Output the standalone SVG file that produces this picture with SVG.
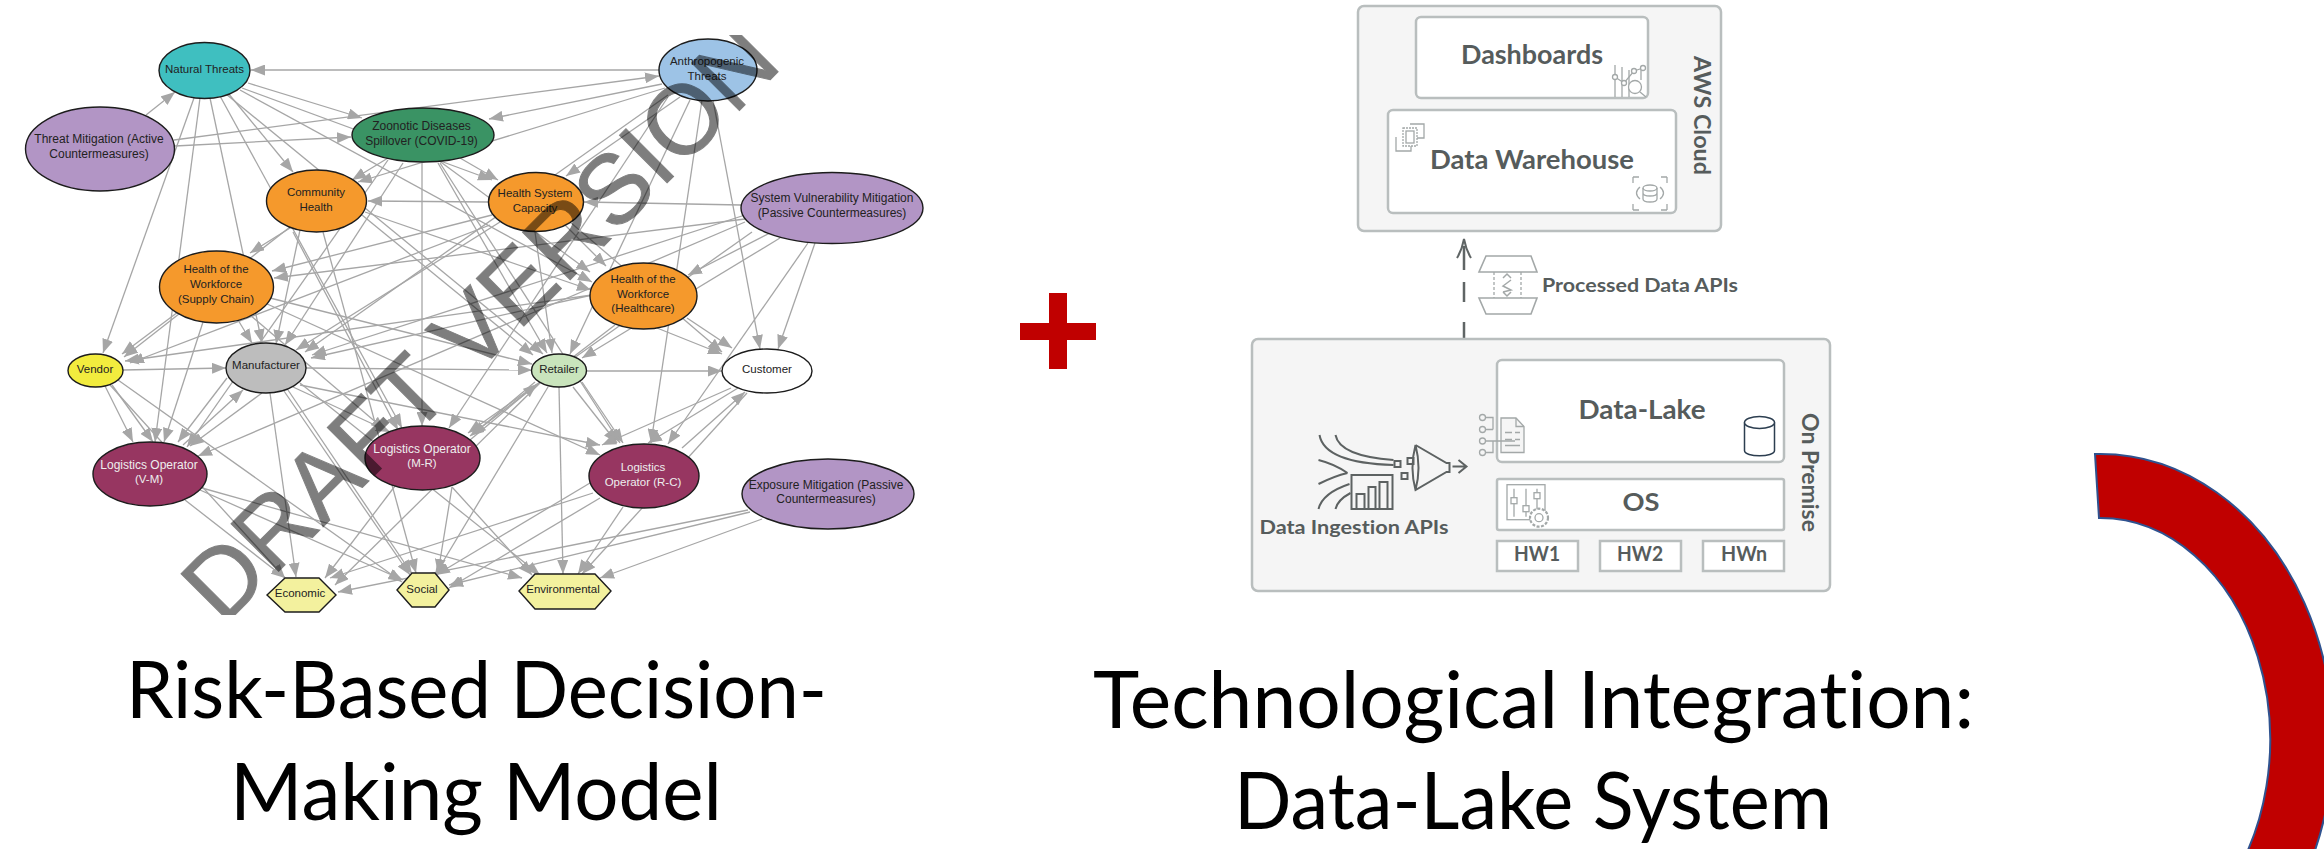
<svg xmlns="http://www.w3.org/2000/svg" width="2324" height="849" viewBox="0 0 2324 849">
<style>
.n{stroke:#1c1c1c;stroke-width:1.4}
.t{font-family:"Liberation Sans",Arial,sans-serif;font-size:11.5px;fill:#222;text-anchor:middle}
.l{font-size:12px}
.w{fill:#eee}
.title{font-family:Lato,"Liberation Sans",sans-serif;font-size:79px;fill:#000;font-variant-ligatures:none}
.box{fill:#f5f5f5;stroke:#b9bebe;stroke-width:2.5}
.in{fill:#fff;stroke:#b9bebe;stroke-width:2.5}
.d{font-family:Lato,"Liberation Sans",sans-serif;font-weight:700;fill:#565c5c;text-anchor:middle;font-variant-ligatures:none}
.ic{fill:none;stroke:#a3a8a8;stroke-width:1.3}
.ik{fill:none;stroke:#5d6262;stroke-width:2}
#connectors line{stroke:#a6a6a6;stroke-width:1.3;marker-end:url(#ah)}
</style>
<defs>
<marker id="ah" markerUnits="userSpaceOnUse" markerWidth="14" markerHeight="11" refX="14" refY="5.5" orient="auto"><path d="M0 0L14 5.5L0 11Z" fill="#a6a6a6"/></marker>
<clipPath id="wm"><rect x="0" y="35" width="1000" height="580"/></clipPath>
</defs>
<rect width="2324" height="849" fill="#fff"/>
<g id="connectors">
<line x1="659" y1="70" x2="251" y2="70"/>
<line x1="146" y1="115" x2="175" y2="92"/>
<line x1="175" y1="146" x2="351" y2="137"/>
<line x1="174" y1="140" x2="659" y2="76"/>
<line x1="248" y1="83" x2="362" y2="118"/>
<line x1="228" y1="93" x2="293" y2="172"/>
<line x1="242" y1="88" x2="492" y2="180"/>
<line x1="240" y1="90" x2="592" y2="282"/>
<line x1="210" y1="98" x2="262" y2="343"/>
<line x1="200" y1="98" x2="155" y2="442"/>
<line x1="194" y1="98" x2="103" y2="353"/>
<line x1="220" y1="96" x2="402" y2="428"/>
<line x1="226" y1="94" x2="543" y2="354"/>
<line x1="662" y1="84" x2="489" y2="119"/>
<line x1="665" y1="88" x2="358" y2="182"/>
<line x1="680" y1="97" x2="566" y2="176"/>
<line x1="668" y1="95" x2="305" y2="352"/>
<line x1="690" y1="100" x2="570" y2="354"/>
<line x1="668" y1="97" x2="449" y2="428"/>
<line x1="702" y1="100" x2="651" y2="443"/>
<line x1="713" y1="100" x2="760" y2="349"/>
<line x1="741" y1="205" x2="584" y2="202"/>
<line x1="770" y1="233" x2="688" y2="275"/>
<line x1="780" y1="238" x2="582" y2="358"/>
<line x1="815" y1="243" x2="778" y2="349"/>
<line x1="808" y1="243" x2="668" y2="444"/>
<line x1="745" y1="222" x2="198" y2="456"/>
<line x1="745" y1="219" x2="274" y2="278"/>
<line x1="745" y1="215" x2="312" y2="355"/>
<line x1="752" y1="232" x2="468" y2="433"/>
<line x1="762" y1="519" x2="600" y2="578"/>
<line x1="750" y1="512" x2="449" y2="585"/>
<line x1="748" y1="510" x2="338" y2="592"/>
<line x1="388" y1="158" x2="352" y2="180"/>
<line x1="460" y1="158" x2="498" y2="180"/>
<line x1="438" y1="160" x2="590" y2="272"/>
<line x1="403" y1="163" x2="285" y2="345"/>
<line x1="422" y1="163" x2="422" y2="426"/>
<line x1="438" y1="163" x2="547" y2="353"/>
<line x1="440" y1="163" x2="620" y2="443"/>
<line x1="388" y1="160" x2="187" y2="447"/>
<line x1="488" y1="202" x2="368" y2="201"/>
<line x1="492" y1="215" x2="272" y2="271"/>
<line x1="565" y1="225" x2="606" y2="266"/>
<line x1="490" y1="225" x2="130" y2="363"/>
<line x1="500" y1="222" x2="296" y2="350"/>
<line x1="535" y1="232" x2="552" y2="353"/>
<line x1="570" y1="222" x2="722" y2="352"/>
<line x1="290" y1="228" x2="250" y2="253"/>
<line x1="290" y1="227" x2="124" y2="357"/>
<line x1="365" y1="212" x2="591" y2="290"/>
<line x1="293" y1="232" x2="398" y2="430"/>
<line x1="323" y1="232" x2="416" y2="573"/>
<line x1="362" y1="215" x2="533" y2="355"/>
<line x1="300" y1="230" x2="276" y2="344"/>
<line x1="178" y1="312" x2="122" y2="354"/>
<line x1="238" y1="320" x2="252" y2="343"/>
<line x1="203" y1="322" x2="164" y2="442"/>
<line x1="270" y1="298" x2="532" y2="364"/>
<line x1="250" y1="315" x2="385" y2="430"/>
<line x1="265" y1="303" x2="600" y2="455"/>
<line x1="687" y1="318" x2="732" y2="348"/>
<line x1="657" y1="328" x2="722" y2="354"/>
<line x1="592" y1="295" x2="311" y2="358"/>
<line x1="592" y1="295" x2="125" y2="361"/>
<line x1="615" y1="325" x2="470" y2="436"/>
<line x1="123" y1="370" x2="226" y2="368"/>
<line x1="105" y1="386" x2="133" y2="442"/>
<line x1="112" y1="385" x2="153" y2="442"/>
<line x1="110" y1="385" x2="285" y2="578"/>
<line x1="118" y1="380" x2="402" y2="582"/>
<line x1="306" y1="368" x2="532" y2="370"/>
<line x1="262" y1="393" x2="190" y2="446"/>
<line x1="227" y1="378" x2="178" y2="442"/>
<line x1="293" y1="387" x2="390" y2="432"/>
<line x1="300" y1="385" x2="600" y2="445"/>
<line x1="270" y1="393" x2="296" y2="577"/>
<line x1="284" y1="391" x2="410" y2="575"/>
<line x1="288" y1="390" x2="412" y2="574"/>
<line x1="300" y1="383" x2="540" y2="575"/>
<line x1="587" y1="371" x2="722" y2="371"/>
<line x1="573" y1="387" x2="617" y2="443"/>
<line x1="582" y1="382" x2="623" y2="443"/>
<line x1="548" y1="387" x2="435" y2="575"/>
<line x1="540" y1="383" x2="335" y2="585"/>
<line x1="559" y1="387" x2="563" y2="574"/>
<line x1="470" y1="440" x2="537" y2="384"/>
<line x1="535" y1="382" x2="472" y2="435"/>
<line x1="738" y1="388" x2="648" y2="443"/>
<line x1="731" y1="388" x2="602" y2="445"/>
<line x1="682" y1="448" x2="745" y2="392"/>
<line x1="747" y1="393" x2="582" y2="574"/>
<line x1="623" y1="507" x2="578" y2="574"/>
<line x1="590" y1="483" x2="436" y2="575"/>
<line x1="593" y1="493" x2="330" y2="578"/>
<line x1="600" y1="498" x2="449" y2="588"/>
<line x1="395" y1="486" x2="325" y2="578"/>
<line x1="452" y1="487" x2="532" y2="575"/>
<line x1="452" y1="487" x2="438" y2="573"/>
<line x1="185" y1="500" x2="285" y2="578"/>
<line x1="200" y1="490" x2="403" y2="580"/>
<line x1="202" y1="488" x2="522" y2="578"/>
<line x1="183" y1="445" x2="243" y2="390"/>
</g>
<g id="natural-threats"><ellipse class="n" cx="204.5" cy="70.5" rx="45.5" ry="28" fill="#3fbfc0"/><text class="t" x="204.5" y="73">Natural Threats</text></g>
<g id="threat-mitigation"><ellipse class="n" cx="100" cy="149" rx="74.5" ry="42" fill="#b295c5"/><text class="t l" x="99" y="143">Threat Mitigation (Active</text><text class="t l" x="99" y="158">Countermeasures)</text></g>
<g id="zoonotic"><ellipse class="n" cx="423" cy="135" rx="71" ry="27" fill="#3a9364"/><text class="t l" x="421.5" y="130">Zoonotic Diseases</text><text class="t l" x="421.5" y="145">Spillover (COVID-19)</text></g>
<g id="community-health"><ellipse class="n" cx="316.5" cy="201" rx="50" ry="31" fill="#f5992c"/><text class="t" x="316" y="196">Community</text><text class="t" x="316" y="211">Health</text></g>
<g id="workforce-supply"><ellipse class="n" cx="216.5" cy="287" rx="57" ry="36" fill="#f5992c"/><text class="t" x="216" y="273">Health of the</text><text class="t" x="216" y="288">Workforce</text><text class="t" x="216" y="303">(Supply Chain)</text></g>
<g id="anthropogenic"><ellipse class="n" cx="708" cy="70" rx="49" ry="31" fill="#9dc3e6"/><text class="t" x="707" y="65">Anthropogenic</text><text class="t" x="707" y="80">Threats</text></g>
<g id="health-system"><ellipse class="n" cx="536" cy="202" rx="47.5" ry="29.5" fill="#f5992c"/><text class="t" x="535" y="197">Health System</text><text class="t" x="535" y="212">Capacity</text></g>
<g id="system-vulnerability"><ellipse class="n" cx="832" cy="208" rx="91" ry="35.5" fill="#b295c5"/><text class="t l" x="832" y="202">System Vulnerability Mitigation</text><text class="t l" x="832" y="217">(Passive Countermeasures)</text></g>
<g id="workforce-healthcare"><ellipse class="n" cx="643.5" cy="296" rx="53.5" ry="33" fill="#f5992c"/><text class="t" x="643" y="283">Health of the</text><text class="t" x="643" y="298">Workforce</text><text class="t" x="643" y="312">(Healthcare)</text></g>
<g id="vendor"><ellipse class="n" cx="95.5" cy="370.5" rx="27.5" ry="16.5" fill="#f2ec3e"/><text class="t" x="95" y="373">Vendor</text></g>
<g id="manufacturer"><ellipse class="n" cx="266" cy="368" rx="40" ry="25" fill="#bdbdbd"/><text class="t" x="266" y="369">Manufacturer</text></g>
<g id="retailer"><ellipse class="n" cx="559" cy="370.5" rx="27.5" ry="16.5" fill="#c9e4bc"/><text class="t" x="559" y="373">Retailer</text></g>
<g id="customer"><ellipse class="n" cx="767" cy="371" rx="45" ry="22" fill="#fff"/><text class="t" x="767" y="373">Customer</text></g>
<g id="logistics-vm"><ellipse class="n" cx="150" cy="474" rx="57" ry="32" fill="#973661"/><text class="t w l" x="149" y="469">Logistics Operator</text><text class="t w" x="149" y="483">(V-M)</text></g>
<g id="logistics-mr"><ellipse class="n" cx="422.5" cy="458" rx="57.5" ry="32" fill="#973661"/><text class="t w l" x="422" y="453">Logistics Operator</text><text class="t w" x="422" y="467">(M-R)</text></g>
<g id="logistics-rc"><ellipse class="n" cx="644" cy="476" rx="55" ry="32" fill="#973661"/><text class="t w" x="643" y="471">Logistics</text><text class="t w" x="643" y="486">Operator (R-C)</text></g>
<g id="exposure-mitigation"><ellipse class="n" cx="828" cy="494" rx="86" ry="35" fill="#b295c5"/><text class="t l" x="826" y="489">Exposure Mitigation (Passive</text><text class="t l" x="826" y="503">Countermeasures)</text></g>
<g id="economic"><polygon class="n" points="267,595 285,578 319,578 336,595 319,612 285,612" fill="#f3f19e"/><text class="t" x="300" y="597">Economic</text></g>
<g id="social"><polygon class="n" points="397,590 412,573 435,573 449,590 435,607 412,607" fill="#f3f19e"/><text class="t" x="422" y="593">Social</text></g>
<g id="environmental"><polygon class="n" points="519,591 535,574 595,574 611,591 595,609 535,609" fill="#f3f19e"/><text class="t" x="563" y="593">Environmental</text></g>
<g clip-path="url(#wm)"><g opacity=".5"><text transform="translate(223 627) rotate(-45)" font-family="'Liberation Sans',Arial,sans-serif" font-size="98" fill="#000" stroke="#000" stroke-width="1">DRAFT VERSION</text></g></g>
<g id="plus"><path d="M1049 293H1067V323H1096V340H1067V369H1049V340H1020V323H1049Z" fill="#c00000"/></g>
<text class="title" x="126" y="718" textLength="701" lengthAdjust="spacingAndGlyphs">Risk-Based Decision-</text>
<text class="title" x="230" y="820" textLength="492" lengthAdjust="spacingAndGlyphs">Making Model</text>
<text class="title" x="1093" y="728" textLength="881" lengthAdjust="spacingAndGlyphs">Technological Integration:</text>
<text class="title" x="1234" y="829" textLength="598" lengthAdjust="spacingAndGlyphs">Data-Lake System</text>
<g id="aws-cloud">
<rect class="box" x="1358" y="6" width="363" height="225" rx="6"/>
<text class="d" transform="translate(1693.5 115.5) rotate(90)" font-size="22" textLength="119" lengthAdjust="spacingAndGlyphs">AWS Cloud</text>
</g>
<g id="dashboards">
<rect class="in" x="1416" y="17" width="232" height="81" rx="5"/>
<text class="d" x="1532" y="64" font-size="27" textLength="142" lengthAdjust="spacingAndGlyphs">Dashboards</text>
<g class="ic"><path d="M1615 65V97M1622 67V97M1629 70V97M1641 70V80"/><path d="M1615 77L1624 83L1634 71L1643 68"/><circle cx="1615" cy="77" r="2.5" fill="#fff"/><circle cx="1624" cy="83" r="2.5" fill="#fff"/><circle cx="1634" cy="71" r="2.5" fill="#fff"/><circle cx="1643" cy="68" r="2.5" fill="#fff"/><circle cx="1635" cy="87" r="6.5" fill="#fff"/><path d="M1640 92L1646 97"/></g>
</g>
<g id="data-warehouse">
<rect class="in" x="1388" y="110" width="288" height="103" rx="5"/>
<text class="d" x="1532" y="169" font-size="27" textLength="204" lengthAdjust="spacingAndGlyphs">Data Warehouse</text>
<g class="ic"><path d="M1410 124H1424V138H1417M1396 137V151H1411V146"/><path d="M1403 128H1417V146H1403Z" stroke-dasharray="2 1"/><rect x="1406" y="131" width="8" height="12"/></g>
<g class="ic"><ellipse cx="1650" cy="188" rx="7" ry="3"/><path d="M1643 188V199C1643 203 1657 203 1657 199V188M1643 193C1643 197 1657 197 1657 193"/><path d="M1640 187Q1633 193 1640 199M1660 187Q1667 193 1660 199M1633 177V183M1633 177H1639M1667 177V183M1667 177H1661M1633 210V204M1633 210H1639M1667 210V204M1667 210H1661"/></g>
</g>
<g id="processed-data-apis">
<path d="M1464 338V322M1464 302V282M1464 270V246" fill="none" stroke="#5f6565" stroke-width="2.5"/>
<path d="M1457 258Q1462 250 1464 239Q1466 250 1471 258" fill="none" stroke="#5f6565" stroke-width="2"/>
<g class="ic"><path d="M1486 256H1531L1537 272H1479ZM1479 298H1537L1531 314H1486Z" stroke-width="1.6"/><path d="M1494 272V298M1521 272V298" stroke-dasharray="3 2"/><path d="M1503 278L1507 274L1511 278M1503 292L1507 296L1511 292M1511 280L1503 286L1511 290L1503 292" stroke-width="1.5"/></g>
<text class="d" x="1640" y="292" font-size="19" textLength="196" lengthAdjust="spacingAndGlyphs">Processed Data APIs</text>
</g>
<g id="on-premise">
<rect class="box" x="1252" y="339" width="578" height="252" rx="6"/>
<text class="d" transform="translate(1802 472.5) rotate(90)" font-size="22" textLength="119" lengthAdjust="spacingAndGlyphs">On Premise</text>
</g>
<g id="data-lake">
<rect class="in" x="1497" y="360" width="287" height="102" rx="5"/>
<text class="d" x="1642" y="419" font-size="27" textLength="127" lengthAdjust="spacingAndGlyphs">Data-Lake</text>
<g transform="translate(-2 -1.5)"><path d="M1746.5 424V452C1746.5 459 1776.5 459 1776.5 452V424" fill="#fff" stroke="#2c3e50" stroke-width="1.5"/><ellipse cx="1761.5" cy="424" rx="15" ry="6" fill="#fff" stroke="#2c3e50" stroke-width="1.5"/></g>
<g class="ic" stroke-width="1.6" transform="translate(-1 -1.5)"><path d="M1502 419.5H1517L1525 428V454H1502Z" fill="#f5f5f5"/><path d="M1517 419.5V428H1525M1506 434H1513M1516 434H1521M1506 441H1513M1516 441H1521M1506 447H1521"/><path d="M1486.5 419H1494V431M1486.5 431H1494M1486.5 442.5H1516M1486.5 454H1494V442"/><circle cx="1483.5" cy="419" r="3"/><circle cx="1483.5" cy="431" r="3"/><circle cx="1483.5" cy="442.5" r="3"/><circle cx="1483.5" cy="454" r="3"/></g>
</g>
<g id="os">
<rect class="in" x="1497" y="479" width="287" height="51" rx="2"/>
<text class="d" x="1641" y="511" font-size="25" textLength="37" lengthAdjust="spacingAndGlyphs">OS</text>
<g class="ic" stroke-width="1.5" transform="translate(-1 -2.3)"><rect x="1508" y="487" width="38" height="35"/><path d="M1515 491V519M1527 491V519M1538 491V519"/><rect x="1512" y="500" width="6" height="6" fill="#fff"/><rect x="1524" y="508" width="6" height="6" fill="#fff"/><rect x="1535" y="495" width="6" height="6" fill="#fff"/><circle cx="1540" cy="520" r="9" fill="#fff" stroke-dasharray="3 1.5" stroke-width="2.2"/><circle cx="1540" cy="520" r="4"/></g>
</g>
<g id="hw1"><rect class="in" x="1497" y="541" width="81" height="30"/><text class="d" x="1537" y="561" font-size="20" textLength="46" lengthAdjust="spacingAndGlyphs">HW1</text></g>
<g id="hw2"><rect class="in" x="1600" y="541" width="81" height="30"/><text class="d" x="1640" y="561" font-size="20" textLength="46" lengthAdjust="spacingAndGlyphs">HW2</text></g>
<g id="hwn"><rect class="in" x="1703" y="541" width="81" height="30"/><text class="d" x="1744" y="561" font-size="20" textLength="46" lengthAdjust="spacingAndGlyphs">HWn</text></g>
<g id="data-ingestion-apis">
<g class="ik" transform="translate(-.5 -2)"><path d="M1320 437Q1325 465 1394 467M1336 437Q1340 458 1394 462M1319 462Q1335 466 1348 475M1319 486Q1335 478 1348 475M1319 511Q1323 495 1350 486M1336 511Q1338 502 1351 495"/><rect x="1352" y="477" width="41" height="34"/><path d="M1357 511V496H1365V511M1369 511V489H1376V511M1380 511V484H1388V511"/><rect x="1395" y="463" width="6" height="6"/><rect x="1408" y="460" width="6" height="6"/><rect x="1402" y="475" width="6" height="6"/><path d="M1416 447L1447 465H1450V474H1447L1416 492Q1410 470 1416 447M1416 447Q1422 470 1416 492"/><path d="M1453 468.5H1466M1459 462L1467 468.5L1459 475"/></g>
<text class="d" x="1354" y="534" font-size="19.5" textLength="189" lengthAdjust="spacingAndGlyphs">Data Ingestion APIs</text>
</g>
<g id="arc"><path d="M2095 454A233 286 0 0 1 2293 900L2218 900A170 222 0 0 0 2099 518Z" fill="#c00000" stroke="#2f528f" stroke-width="2"/></g>
</svg>
